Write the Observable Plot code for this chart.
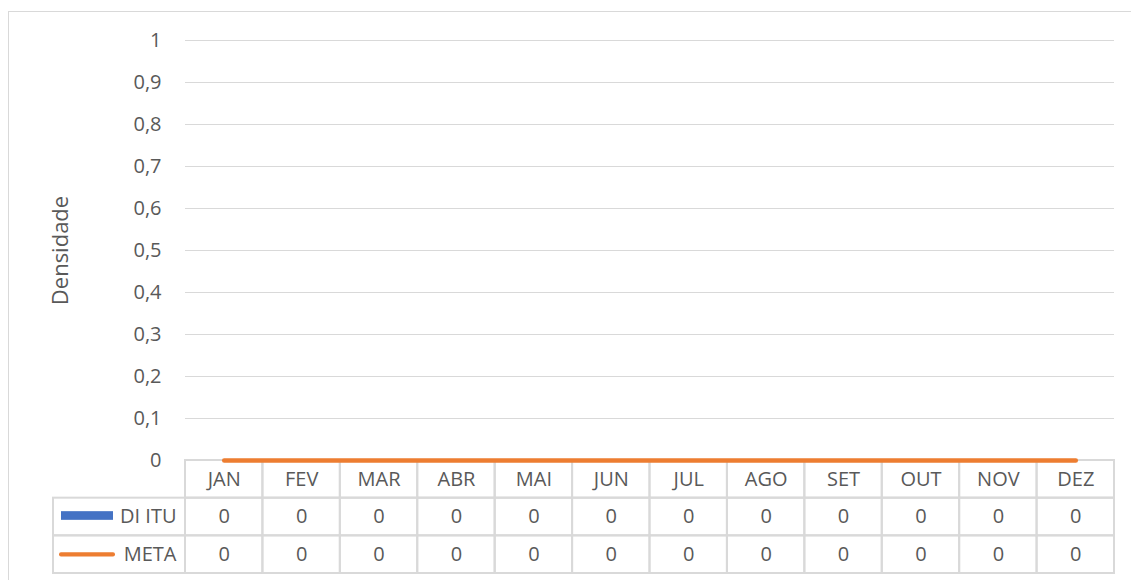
<!DOCTYPE html>
<html>
<head>
<meta charset="utf-8">
<script src="https://cdn.jsdelivr.net/npm/d3@7"></script>
<script src="https://cdn.jsdelivr.net/npm/@observablehq/plot@0.6"></script>
<style>
  html, body { margin: 0; padding: 0; background: #fff; overflow: hidden; }
  #wrap { position: relative; width: 1131px; height: 580px; overflow: hidden; }
  #border { position: absolute; left: 8px; top: 11px; width: 1200px; height: 700px; border: 1px solid #D9D9D9; box-sizing: border-box; }
  .layer { position: absolute; }
</style>
</head>
<body>
<div id="wrap">
  <div id="border"></div>
  <div id="table" class="layer" style="left:0;top:460px"></div>
  <div id="legend" class="layer" style="left:0;top:460px"></div>
  <div id="main" class="layer" style="left:0;top:0;pointer-events:none"></div>
</div>
<script>
const months = ["JAN","FEV","MAR","ABR","MAI","JUN","JUL","AGO","SET","OUT","NOV","DEZ"];
const diItu = [0,0,0,0,0,0,0,0,0,0,0,0];
const meta  = [0,0,0,0,0,0,0,0,0,0,0,0];
const seriesNames = ["DI ITU","META"];
const yTicks = [0,0.1,0.2,0.3,0.4,0.5,0.6,0.7,0.8,0.9,1];
const yLabel = "Densidade";

const blue = "#4472C4", orange = "#ED7D31", grid = "#D9D9D9", txt = "#595959";
const font = {fontFamily: "'Open Sans', sans-serif", fontSize: "20px", color: txt, background: "transparent", overflow: "visible"};

const diData = months.map((m, i) => ({month: m, value: diItu[i]}));
const metaData = months.map((m, i) => ({month: m, value: meta[i]}));

const main = Plot.plot({
  width: 1131, height: 473,
  marginLeft: 185, marginRight: 17, marginTop: 40, marginBottom: 13,
  style: font,
  x: {type: "band", domain: months, padding: 0, round: false, axis: null},
  y: {domain: [0, 1]},
  marks: [
    Plot.ruleY(yTicks.filter(t => t > 0), {stroke: grid, strokeWidth: 1}),
    Plot.axisY({ticks: yTicks, tickSize: 0, tickPadding: 24, label: null,
      tickFormat: d => String(d).replace(".", ","), fill: txt, fontSize: 20}),
    Plot.barY(diData, {x: "month", y: "value", fill: blue, inset: 20}),
    Plot.line(metaData, {x: "month", y: "value", stroke: orange, strokeWidth: 4.5, strokeLinecap: "round"}),
    Plot.text([yLabel], {frameAnchor: "left", textAnchor: "middle", rotate: -90, dx: -125, fontSize: 22, fill: txt})
  ]
});
document.getElementById("main").appendChild(main);

const rows = ["", ...seriesNames];
const cells = [];
months.forEach(m => rows.forEach(r => cells.push({month: m, row: r})));
const valueCells = [];
months.forEach((m, i) => {
  valueCells.push({month: m, row: seriesNames[0], value: diItu[i]});
  valueCells.push({month: m, row: seriesNames[1], value: meta[i]});
});

const table = Plot.plot({
  width: 1131, height: 114,
  marginLeft: 185, marginRight: 17, marginTop: 0, marginBottom: 1,
  style: font,
  x: {type: "band", domain: months, padding: 0, round: false, axis: null},
  y: {type: "band", domain: rows, padding: 0, round: false, axis: null},
  marks: [
    Plot.cell(cells, {x: "month", y: "row", fill: "none", stroke: grid, strokeWidth: 2, inset: 0}),
    Plot.text(months, {x: d => d, y: () => "", fill: txt, fontSize: 20}),
    Plot.text(valueCells, {x: "month", y: "row", text: d => String(d.value).replace(".", ","), fill: txt, fontSize: 20})
  ]
});
document.getElementById("table").appendChild(table);

const legend = Plot.plot({
  width: 186, height: 114,
  marginLeft: 53, marginRight: 1, marginTop: 0, marginBottom: 1,
  style: font,
  x: {type: "band", domain: ["leg"], padding: 0, round: false, axis: null},
  y: {type: "band", domain: rows, padding: 0, round: false, axis: null},
  marks: [
    Plot.cell(seriesNames, {x: () => "leg", y: d => d, fill: "none", stroke: grid, strokeWidth: 2, inset: 0}),
    Plot.cell([seriesNames[0]], {x: () => "leg", y: d => d, fill: blue,
      insetLeft: 8, insetRight: 72, insetTop: 13.5, insetBottom: 15.5}),
    Plot.cell([seriesNames[1]], {x: () => "leg", y: d => d, fill: orange,
      insetLeft: 6, insetRight: 70, insetTop: 17, insetBottom: 16.5, rx: 2}),
    Plot.text(seriesNames, {x: () => "leg", y: d => d, textAnchor: "end", dx: 57, fill: txt, fontSize: 20})
  ]
});
document.getElementById("legend").appendChild(legend);
</script>
</body>
</html>
